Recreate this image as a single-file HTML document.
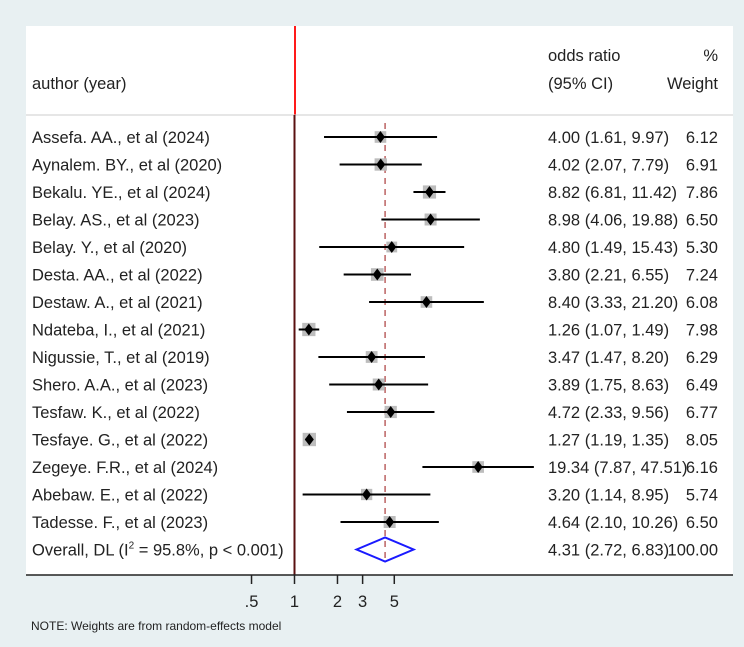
<!DOCTYPE html>
<html><head><meta charset="utf-8"><style>
html,body{margin:0;padding:0;background:#e8f0f2;}
svg{display:block;font-family:"Liberation Sans",Arial,sans-serif;}
</style></head><body>
<svg id="chart" width="744" height="647" viewBox="0 0 744 647" xmlns="http://www.w3.org/2000/svg">
<rect x="0" y="0" width="744" height="647" fill="#e8f0f2"/>
<rect x="26" y="26" width="707" height="549" fill="#ffffff"/>
<line x1="295" y1="26" x2="295" y2="115" stroke="#ff1a1a" stroke-width="2"/>
<line x1="26" y1="115" x2="733" y2="115" stroke="#cccccc" stroke-width="1"/>
<text x="548" y="61" font-size="16.5" fill="#222">odds ratio</text>
<text x="718" y="61" font-size="16.5" fill="#222" text-anchor="end">%</text>
<text x="32" y="89" font-size="16.5" fill="#222">author (year)</text>
<text x="548" y="89" font-size="16.5" fill="#222">(95% CI)</text>
<text x="718" y="89" font-size="16.5" fill="#222" text-anchor="end">Weight</text>
<g id="marks"></g>
<text x="31" y="630" font-size="12" fill="#222">NOTE: Weights are from random-effects model</text>
</svg>
<script>
const studies = ["Assefa. AA., et al  (2024)","Aynalem. BY., et al (2020)","Bekalu. YE., et al (2024)","Belay. AS., et al  (2023)","Belay. Y., et al (2020)","Desta. AA., et al (2022)","Destaw. A., et al (2021)","Ndateba, I., et al (2021)","Nigussie, T., et al  (2019)","Shero. A.A., et al (2023)","Tesfaw. K., et al (2022)","Tesfaye. G., et al (2022)","Zegeye. F.R., et al (2024)","Abebaw. E., et al (2022)","Tadesse. F., et al  (2023)"];
const orValues = [4.00,4.02,8.82,8.98,4.80,3.80,8.40,1.26,3.47,3.89,4.72,1.27,19.34,3.20,4.64];
const ciLow = [1.61,2.07,6.81,4.06,1.49,2.21,3.33,1.07,1.47,1.75,2.33,1.19,7.87,1.14,2.10];
const ciHigh = [9.97,7.79,11.42,19.88,15.43,6.55,21.20,1.49,8.20,8.63,9.56,1.35,47.51,8.95,10.26];
const weights = [6.12,6.91,7.86,6.50,5.30,7.24,6.08,7.98,6.29,6.49,6.77,8.05,6.16,5.74,6.50];
const overall = [4.31,2.72,6.83,100.00];
const tickValues = [0.5,1,2,3,5];
const tickLabels = [".5","1","2","3","5"];

const NS="http://www.w3.org/2000/svg";
const g=document.getElementById('marks');
const xS=v=>294.5+62*Math.log(v);
const yS=i=>137+27.5*i;
const f2=v=>v.toFixed(2);
const FS=16.5;
function mk(tag,attrs){const e=document.createElementNS(NS,tag);for(const k in attrs)e.setAttribute(k,attrs[k]);g.appendChild(e);return e;}

let nl=mk('line',{x1:xS(1),y1:115,x2:xS(1),y2:575,stroke:'#5a1010','stroke-width':2});


let dl=mk('line',{x1:xS(overall[0]),y1:123,x2:xS(overall[0]),y2:yS(studies.length)+10,stroke:'#b04a4a','stroke-width':1.3,'stroke-dasharray':'6,5'});



studies.forEach((s,i)=>{
  const y=yS(i);
  const lab=mk('text',{x:32,y:y+6,'font-size':FS,fill:'#222'});lab.textContent=s;
  
  
  const sz=Math.sqrt(weights[i])*4.7;
  const sq=mk('rect',{x:xS(orValues[i])-sz/2,y:y-sz/2,width:sz,height:sz,fill:'#bdbdbd'});
  
  
  const ci=mk('line',{x1:xS(ciLow[i]),y1:y,x2:xS(ciHigh[i]),y2:y,stroke:'#000','stroke-width':2});
  
  
  const cx=xS(orValues[i]);
  const d=mk('polygon',{points:`${cx-4.5},${y} ${cx},${y-6} ${cx+4.5},${y} ${cx},${y+6}`,fill:'#000'});
  
  
  const v=mk('text',{x:548,y:y+6,'font-size':FS,fill:'#222'});
  v.textContent=`${f2(orValues[i])} (${f2(ciLow[i])}, ${f2(ciHigh[i])})`;
  
  
  const w=mk('text',{x:718,y:y+6,'font-size':FS,fill:'#222','text-anchor':'end'});
  w.textContent=f2(weights[i]);
  
  
});
const yo=yS(studies.length);
const ol=mk('text',{x:32,y:yo+6,'font-size':FS,fill:'#222'});
ol.innerHTML='Overall, DL (I<tspan dy="-7" font-size="10">2</tspan><tspan dy="7"> = 95.8%, p &lt; 0.001)</tspan>';


const dm=mk('polygon',{points:`${xS(overall[1])},${yo} ${xS(overall[0])},${yo-12} ${xS(overall[2])},${yo} ${xS(overall[0])},${yo+12}`,fill:'none',stroke:'#1a1aff','stroke-width':2});


const ov=mk('text',{x:548,y:yo+6,'font-size':FS,fill:'#222'});
ov.textContent=`${f2(overall[0])} (${f2(overall[1])}, ${f2(overall[2])})`;


const ow=mk('text',{x:718,y:yo+6,'font-size':FS,fill:'#222','text-anchor':'end'});
ow.textContent=f2(overall[3]);


const ax=mk('line',{x1:26,y1:575,x2:733,y2:575,stroke:'#222','stroke-width':1.5});


tickValues.forEach((t,i)=>{
  const tk=mk('line',{x1:xS(t),y1:575,x2:xS(t),y2:584,stroke:'#222','stroke-width':1.5});
  
  
  const tl=mk('text',{x:xS(t),y:607,'font-size':FS,fill:'#222','text-anchor':'middle'});
  tl.textContent=tickLabels[i];
  
  
});
</script>
</body></html>
